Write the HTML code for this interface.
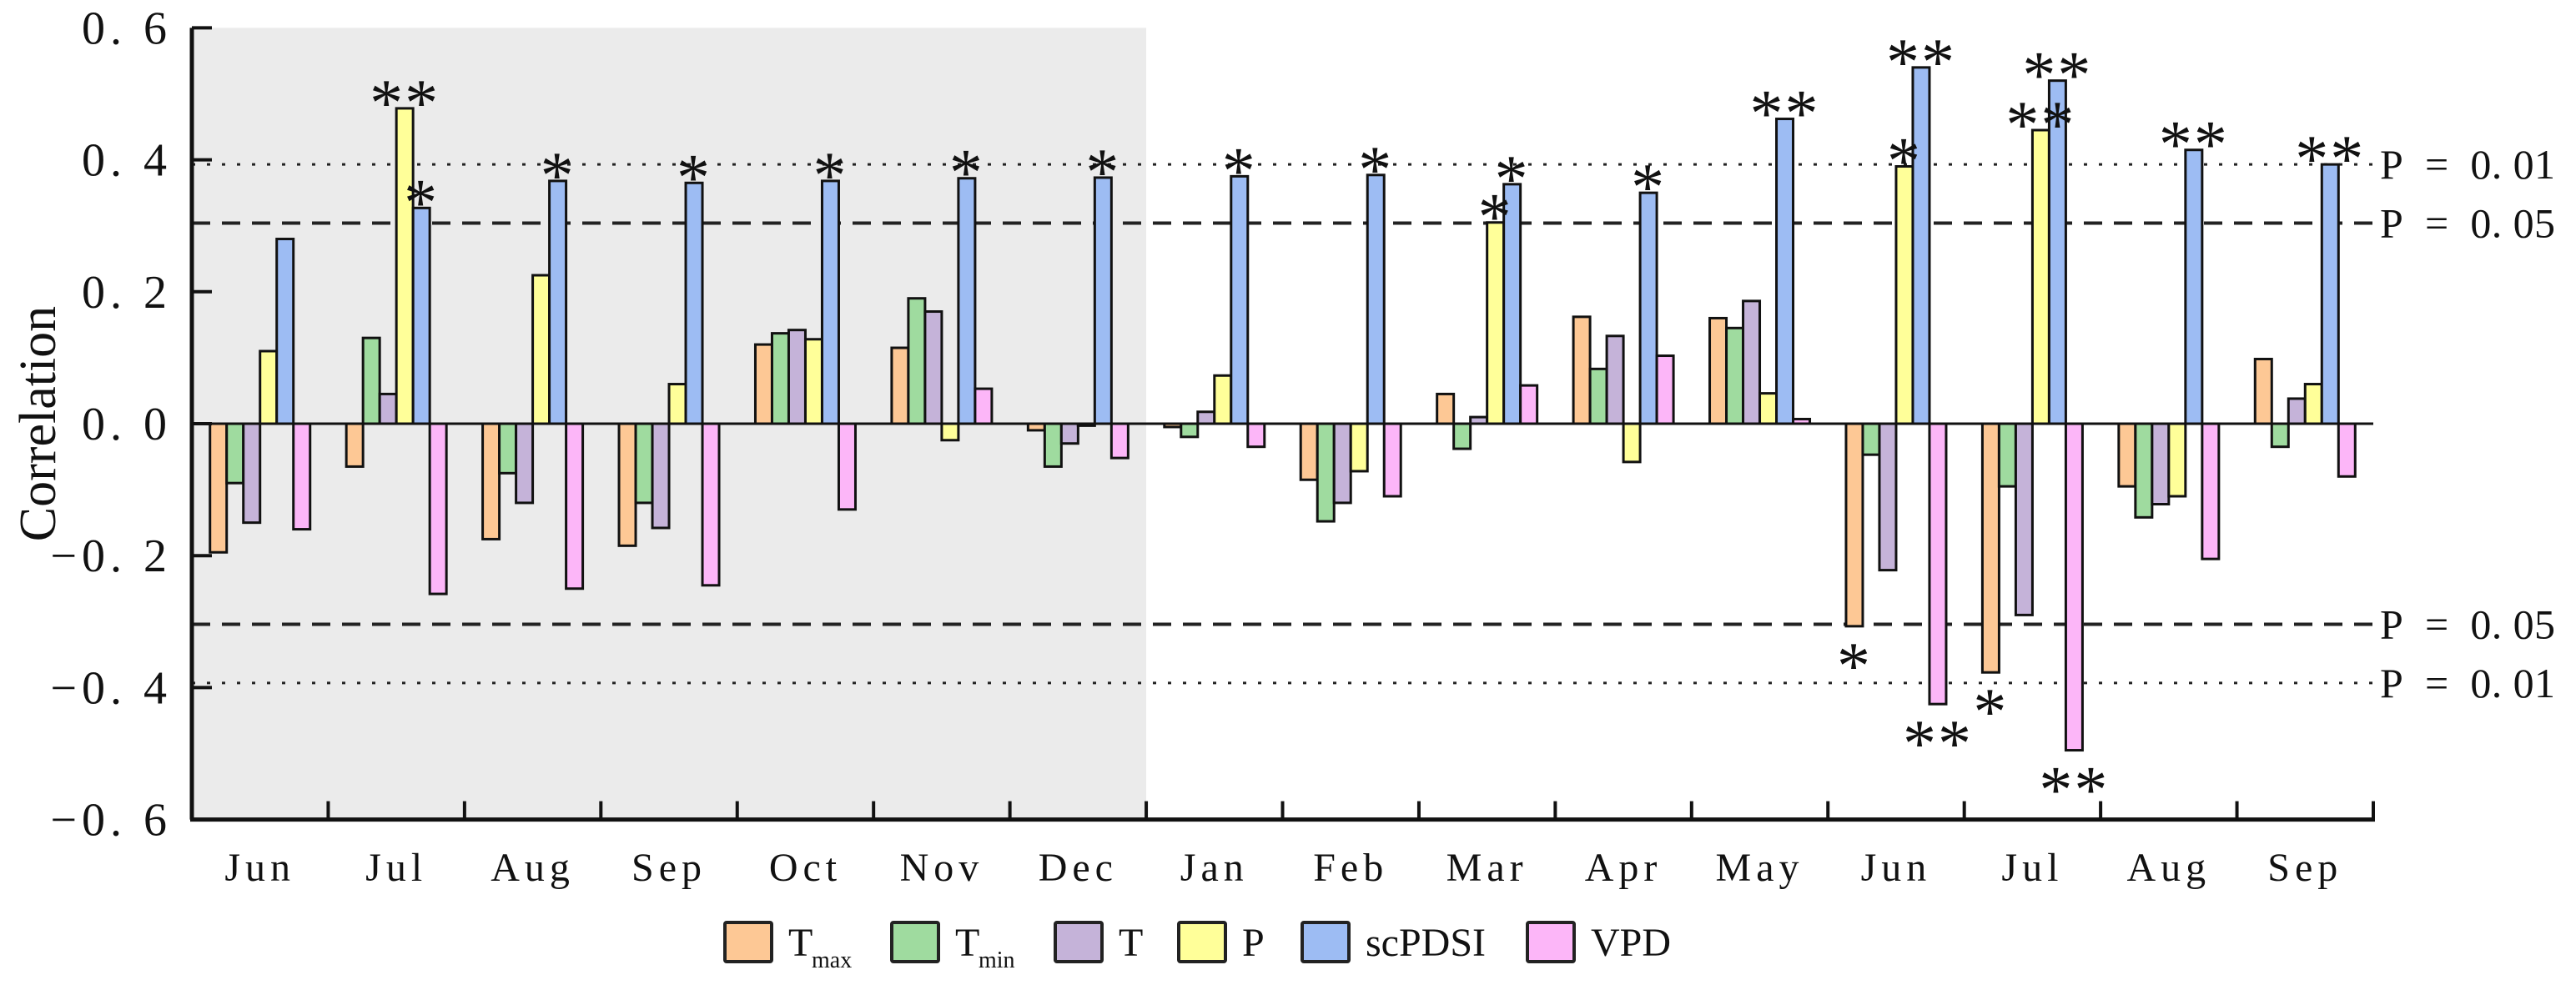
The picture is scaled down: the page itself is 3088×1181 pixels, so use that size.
<!DOCTYPE html>
<html><head><meta charset="utf-8">
<style>
html,body{margin:0;padding:0;background:#fff;}
svg{display:block;}
text{font-family:"Liberation Serif","DejaVu Serif",serif;fill:#111;}
</style></head>
<body>
<svg id="chart" width="3088" height="1181" viewBox="0 0 3088 1181" xmlns="http://www.w3.org/2000/svg">
<g id="plot"></g>
</svg>
<script>
const months = ["Jun","Jul","Aug","Sep","Oct","Nov","Dec","Jan","Feb","Mar","Apr","May","Jun","Jul","Aug","Sep"];
const seriesNames = ["Tmax","Tmin","T","P","scPDSI","VPD"];
const tmax  = [-0.195,-0.065,-0.175,-0.185,0.12,0.115,-0.01,-0.005,-0.085,0.045,0.162,0.16,-0.307,-0.377,-0.095,0.098];
const tmin  = [-0.09,0.13,-0.075,-0.12,0.137,0.19,-0.065,-0.02,-0.148,-0.038,0.083,0.145,-0.047,-0.095,-0.142,-0.035];
const tmean = [-0.15,0.045,-0.12,-0.158,0.142,0.17,-0.03,0.018,-0.12,0.01,0.133,0.186,-0.222,-0.29,-0.122,0.038];
const precip= [0.11,0.478,0.225,0.06,0.128,-0.025,-0.003,0.073,-0.072,0.305,-0.058,0.046,0.39,0.445,-0.11,0.06];
const scpdsi= [0.28,0.327,0.368,0.365,0.368,0.372,0.373,0.375,0.377,0.363,0.35,0.462,0.54,0.52,0.415,0.393];
const vpd   = [-0.16,-0.258,-0.25,-0.245,-0.13,0.053,-0.052,-0.035,-0.11,0.058,0.103,0.007,-0.425,-0.495,-0.205,-0.08];
const starsP      = ["","**","","","","","","","","*","","","*","**","",""];
const starsScpdsi = ["","*","*","*","*","*","*","*","*","*","*","**","**","**","**","**"];
const starsTmax   = ["","","","","","","","","","","","","*","*","",""];
const starsVpd    = ["","","","","","","","","","","","","**","**","",""];
const yTicks = [0.6,0.4,0.2,0.0,-0.2,-0.4,-0.6];
const sigLevels = [0.393,0.304,-0.304,-0.393];
const sigLabels = ["P\u00a0\u00a0=\u00a0\u00a00.\u00a001","P\u00a0\u00a0=\u00a0\u00a00.\u00a005","P\u00a0\u00a0=\u00a0\u00a00.\u00a005","P\u00a0\u00a0=\u00a0\u00a00.\u00a001"];

const colors = ["#fdc895","#9fdb9f","#c5b3d9","#ffff99","#9dbcf3","#fcb6f8"];
const X0=230, X1=2845, Y0=508, K=791;
const MW=(X1-X0)/months.length, BW=20, OFF=(MW-6*BW)/2;
const y = v => Y0 - v*K;
const xm = i => X0 + i*MW;
const xb = (i,s) => xm(i)+OFF+s*BW;
const NS="http://www.w3.org/2000/svg";
const g=document.getElementById('plot');
function mk(tag,attrs){const e=document.createElementNS(NS,tag);for(const k in attrs)e.setAttribute(k,attrs[k]);g.appendChild(e);return e;}

let sh=mk('rect',{x:X0,y:y(0.6),width:7*MW,height:y(-0.6)-y(0.6),fill:'#ebebeb'});



sigLevels.forEach((v,i)=>{
  const dotted = Math.abs(v)>0.35;
  let l=mk('line',{x1:X0,x2:2850,y1:y(v),y2:y(v),stroke:'#222','stroke-width':dotted?3:4,'stroke-dasharray':dotted?'4 14':'22 14'});
  
  
  let t=mk('text',{x:2853,y:y(v)+17,'font-size':50,textLength:210,lengthAdjust:'spacing'});
  t.textContent=sigLabels[i];
  
  
});

const data=[tmax,tmin,tmean,precip,scpdsi,vpd];
data.forEach((arr,s)=>{
  arr.forEach((v,i)=>{
    const top=Math.min(y(v),Y0), h=Math.abs(y(v)-Y0);
    let r=mk('rect',{x:xb(i,s),y:top,width:BW,height:Math.max(h,1),fill:colors[s],stroke:'#111','stroke-width':3});
    
    
  });
});

let z=mk('line',{x1:X0,x2:X1,y1:Y0,y2:Y0,stroke:'#111','stroke-width':3});



function stars(arr,vals,s){
  arr.forEach((st,i)=>{
    if(!st)return;
    const v=vals[i], cx=xb(i,s)+BW/2;
    const ty = v>=0 ? y(v)+20 : y(v)+74;
    let t=mk('text',{x:cx,y:ty,'font-size':80,'text-anchor':'middle','letter-spacing':'2'});
    t.textContent=st;
    
    
  });
}
stars(starsP,precip,3);stars(starsScpdsi,scpdsi,4);stars(starsTmax,tmax,0);stars(starsVpd,vpd,5);

let ya=mk('line',{x1:X0,x2:X0,y1:y(0.6),y2:y(-0.6),stroke:'#111','stroke-width':5});


let xa=mk('line',{x1:X0-2,x2:X1+2,y1:y(-0.6),y2:y(-0.6),stroke:'#111','stroke-width':5});


yTicks.forEach(v=>{
  let tk=mk('line',{x1:X0,x2:X0+24,y1:y(v),y2:y(v),stroke:'#111','stroke-width':4});
  
  
  let t=mk('text',{x:X0-24,y:y(v)+19,'font-size':56,'text-anchor':'end','letter-spacing':'6'});
  t.textContent=(v<0?'\u2212':'')+Math.abs(v).toFixed(1).replace('.','.\u00a0');
  
  
});
for(let i=1;i<=months.length;i++){
  let tk=mk('line',{x1:xm(i),x2:xm(i),y1:y(-0.6),y2:y(-0.6)-22,stroke:'#111','stroke-width':4});
  
  
}
months.forEach((m,i)=>{
  let t=mk('text',{x:xm(i)+MW/2,y:1056,'font-size':48,'text-anchor':'middle','letter-spacing':'6'});
  t.textContent=m;
  
  
});
let yl=mk('text',{x:66,y:y(0),'font-size':62,'text-anchor':'middle',transform:'rotate(-90 66 '+y(0)+')'});
yl.textContent='Correlation';



const legX=[869,1069,1265,1413,1561,1831];
const legLab=[["T","max"],["T","min"],["T",""],["P",""],["scPDSI",""],["VPD",""]];
legX.forEach((lx,s)=>{
  let r=mk('rect',{x:lx,y:1106,width:56,height:47,fill:colors[s],stroke:'#222','stroke-width':4,rx:2});
  
  
  let t=mk('text',{x:lx+76,y:1146,'font-size':48});
  t.textContent=legLab[s][0];
  
  
  if(legLab[s][1]){
    let sub=mk('text',{x:lx+104,y:1160,'font-size':28});
    sub.textContent=legLab[s][1];
    
    
  }
});
</script>
</body></html>
